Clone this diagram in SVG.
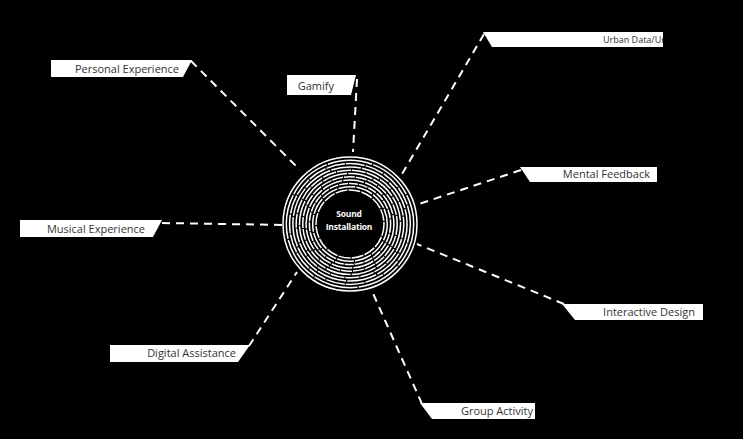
<svg xmlns="http://www.w3.org/2000/svg" width="743" height="439" viewBox="0 0 743 439">
<style>
.bg{fill:#000}
.box{fill:#fff}
.lbl{font-family:"Open Sans","Liberation Sans",sans-serif;font-size:11px;fill:#333;text-anchor:end}
.conn{stroke:#fff;stroke-width:2;stroke-dasharray:8 6;fill:none}
.ring{fill:none;stroke:#fff;stroke-width:1.5}
.ctr{font-family:"Open Sans","Liberation Sans",sans-serif;font-size:8.5px;font-weight:bold;fill:#fff;text-anchor:middle;letter-spacing:-0.2px}
</style>
<rect class="bg" x="0" y="0" width="743" height="439"/>
<g id="connectors">
<line class="conn" x1="191" y1="61" x2="300" y2="170"/>
<line class="conn" x1="357" y1="79" x2="353" y2="152"/>
<line class="conn" x1="484" y1="34" x2="402" y2="174"/>
<line class="conn" x1="521" y1="170" x2="419" y2="204"/>
<line class="conn" x1="564" y1="304" x2="417" y2="244"/>
<line class="conn" x1="422" y1="404" x2="372" y2="291"/>
<line class="conn" x1="249" y1="346" x2="297" y2="272"/>
<line class="conn" x1="162" y1="223" x2="285" y2="225"/>
</g>
<g id="center">
<circle class="ring" cx="350" cy="224" r="34" stroke-dasharray="12 1.2"/>
<circle class="ring" cx="350" cy="224" r="37.3" stroke-dasharray="17 1.2"/>
<circle class="ring" cx="350" cy="224" r="40.6" stroke-dasharray="9 1"/>
<circle class="ring" cx="350" cy="224" r="43.9" stroke-dasharray="21 1.2"/>
<circle class="ring" cx="350" cy="224" r="47.2" stroke-dasharray="11 1"/>
<circle class="ring" cx="350" cy="224" r="50.5" stroke-dasharray="25 1.2"/>
<circle class="ring" cx="350" cy="224" r="53.8" stroke-dasharray="14 1"/>
<circle class="ring" cx="350" cy="224" r="57.1" stroke-dasharray="30 1.2"/>
<circle class="ring" cx="350" cy="224" r="60.4" stroke-dasharray="19 1"/>
<circle class="ring" cx="350" cy="224" r="63.7" stroke-dasharray="45 1.2"/>
<circle class="ring" cx="350" cy="224" r="67"/>
<text class="ctr" x="349" y="217">Sound</text>
<text class="ctr" x="349" y="229.5">Installation</text>
</g>
<g id="personal">
<polygon class="box" points="51,60 192,60 183,77 51,77"/>
<text class="lbl" x="179" y="73">Personal Experience</text>
</g>
<g id="gamify">
<polygon class="box" points="287,75 356,75 351,95 287,95"/>
<text class="lbl" x="334" y="90">Gamify</text>
</g>
<g id="urban">
<clipPath id="uc"><polygon points="483,32 663,32 663,47 492,47"/></clipPath>
<polygon class="box" points="483,32 663,32 663,47 492,47"/>
<text class="lbl" x="603" y="43" style="font-size:9px;text-anchor:start" clip-path="url(#uc)">Urban Data/Urban</text>
</g>
<g id="mental">
<polygon class="box" points="520,167 657,167 657,182 530,182"/>
<text class="lbl" x="650" y="178">Mental Feedback</text>
</g>
<g id="interactive">
<polygon class="box" points="562,304 703,304 703,320 575,320"/>
<text class="lbl" x="695" y="316">Interactive Design</text>
</g>
<g id="group">
<polygon class="box" points="420,403 535,403 535,419 432,419"/>
<text class="lbl" x="533" y="415">Group Activity</text>
</g>
<g id="digital">
<polygon class="box" points="110,345 250,345 238,362 110,362"/>
<text class="lbl" x="236" y="357">Digital Assistance</text>
</g>
<g id="musical">
<polygon class="box" points="20,220 162,220 153,237 20,237"/>
<text class="lbl" x="145" y="233">Musical Experience</text>
</g>
</svg>
